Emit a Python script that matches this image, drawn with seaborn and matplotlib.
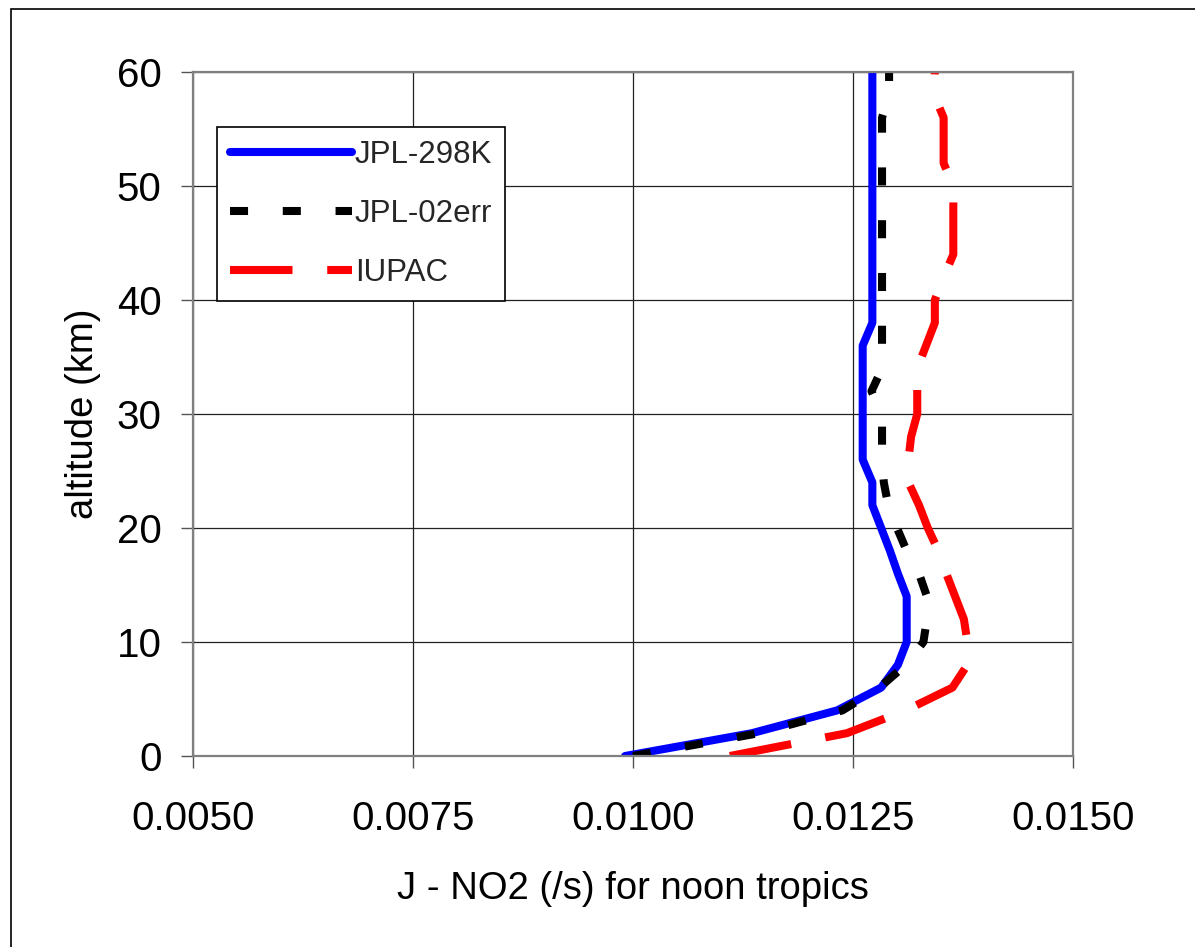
import numpy as np
import pandas as pd
import matplotlib
matplotlib.use("Agg")
import matplotlib.pyplot as plt
import seaborn as sns
from matplotlib.patches import Rectangle

# altitude grid (km)
altitude = [0, 2, 4, 6, 8, 10, 12, 14, 16, 18, 20, 22, 24, 26, 28, 30,
            32, 34, 36, 38, 40, 42, 44, 46, 48, 50, 52, 54, 56, 58, 60]

# J-NO2 (/s) for noon tropics
jpl_298k = [0.00991, 0.01135, 0.01232, 0.01282, 0.01301, 0.01311, 0.01311, 0.01311,
            0.01301, 0.01292, 0.01282, 0.01272, 0.01272, 0.01261, 0.01261, 0.01261,
            0.01261, 0.01261, 0.01261, 0.01272, 0.01272, 0.01272, 0.01272, 0.01272,
            0.01272, 0.01272, 0.01272, 0.01272, 0.01272, 0.01272, 0.01272]
jpl_02err = [0.01000, 0.01143, 0.01238, 0.01280, 0.01310, 0.01330, 0.01334, 0.01334,
             0.01325, 0.01311, 0.01300, 0.01290, 0.01285, 0.01283, 0.01283, 0.01283,
             0.01271, 0.01283, 0.01283, 0.01283, 0.01283, 0.01283, 0.01283, 0.01283,
             0.01283, 0.01283, 0.01283, 0.01283, 0.01283, 0.01291, 0.01291]
iupac = [0.01110, 0.01243, 0.01310, 0.01363, 0.01380, 0.01380, 0.01376, 0.01366,
         0.01356, 0.01347, 0.01335, 0.01325, 0.01313, 0.01313, 0.01316, 0.01323,
         0.01323, 0.01323, 0.01333, 0.01343, 0.01343, 0.01353, 0.01364, 0.01364,
         0.01364, 0.01364, 0.01353, 0.01353, 0.01353, 0.01342, 0.01343]

names = ["JPL-298K", "JPL-02err", "IUPAC"]
colors = {"JPL-298K": "#0000ff", "JPL-02err": "#000000", "IUPAC": "#ff0000"}
xticks = [0.0050, 0.0075, 0.0100, 0.0125, 0.0150]
yticks = [0, 10, 20, 30, 40, 50, 60]

df = pd.concat([
    pd.DataFrame({"J": vals, "alt": altitude, "series": name})
    for name, vals in zip(names, [jpl_298k, jpl_02err, iupac])
], ignore_index=True)

sns.set_theme(style="white")
plt.rcParams["font.family"] = ["Liberation Sans", "DejaVu Sans"]
plt.rcParams["lines.scale_dashes"] = False

fig = plt.figure(figsize=(11.95, 9.47), dpi=100)
W, H = 1195, 947
ax = fig.add_axes([193 / W, 1 - 756 / H, 880 / W, 684 / H])

# outer chart border like the spreadsheet frame
fig.patches.append(Rectangle((11 / W, -0.1), 1.2, 1 - 9 / H + 0.1,
                             transform=fig.transFigure, fill=False,
                             edgecolor="black", linewidth=1.2))

sns.lineplot(data=df, x="J", y="alt", hue="series", style="series",
             palette=colors, hue_order=names, style_order=names,
             dashes={"JPL-298K": "", "JPL-02err": (13, 25), "IUPAC": (45, 25)},
             linewidth=5.8, orient="y", estimator=None, ax=ax)

for ln in ax.get_lines():
    ln.set_solid_capstyle("round")
    ln.set_dash_capstyle("butt")

ax.set_xlim(0.005, 0.015)
ax.set_ylim(0, 60)
ax.set_xticks(xticks)
ax.set_yticks(yticks)
ax.set_xticklabels([f"{t:.4f}" for t in xticks])
ax.grid(True, color="#222222", linewidth=0.9)
ax.set_axisbelow(True)

for side in ["left", "right", "top", "bottom"]:
    ax.spines[side].set_color("#808080")
    ax.spines[side].set_linewidth(1.6)
ax.tick_params(axis="both", direction="out", length=8.5, width=1.0,
               color="#555555", labelsize=29, pad=14, labelcolor="black")
ax.tick_params(axis="x", bottom=True, pad=23)
ax.tick_params(axis="y", left=True)

ax.set_xlabel("J - NO2 (/s) for noon tropics", fontsize=27.5, labelpad=24, color="black")
ax.set_ylabel("altitude (km)", fontsize=27.5, labelpad=11, color="black")

handles, labels = ax.get_legend_handles_labels()
leg = ax.legend(handles, labels, loc="upper left", bbox_to_anchor=(0.027, 0.92),
                frameon=True, fancybox=False, edgecolor="black", framealpha=1,
                fontsize=22.5, handlelength=3.9, handletextpad=0.1,
                labelspacing=0.93, borderpad=0.42, borderaxespad=0)
leg.get_frame().set_linewidth(1.2)
for ln in leg.get_lines():
    ln.set_linewidth(5.8)
    ln.set_solid_capstyle("round")

fig.savefig("out.png", dpi=100)
